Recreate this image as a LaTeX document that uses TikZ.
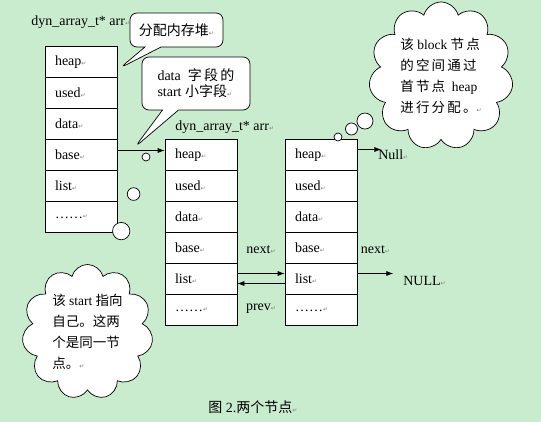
\documentclass[tikz,border=0pt]{standalone}
\usepackage{fontspec}
\setmainfont{Liberation Serif}
\newfontfamily\cjk{Noto Sans CJK SC}
\newfontfamily\cjkwide[LetterSpace=16]{Noto Sans CJK SC}
\newfontfamily\symfont{DejaVu Sans}
\usetikzlibrary{positioning,shapes.callouts,arrows.meta}
\definecolor{bggreen}{RGB}{201,236,206}
\newcommand\retmark{{\symfont\fontsize{6}{6}\selectfont\textcolor{gray}{↵}}}

\begin{document}
\begin{tikzpicture}[x=1pt,y=-1pt,node distance=31pt,on grid,line width=0.7pt,
    >={Latex[length=7pt,width=5pt]},
    every node/.style={font=\fontsize{14}{16}\selectfont},
    cell/.style={draw,fill=white,minimum width=72pt,minimum height=31pt,
      text width=52pt,inner xsep=10pt,align=left},
    lbl/.style={anchor=west,inner sep=0pt},
    speech/.style={rectangle callout,draw,fill=white,rounded corners=7pt,
      callout pointer width=16pt,align=left},
    thought/.style={cloud callout,draw,fill=white,cloud puffs=11,cloud ignores aspect,
      align=left,callout pointer segments=3,
      font=\fontsize{13.5}{21}\selectfont}]

    \fill[bggreen] (0,0) rectangle (541,422);
    \useasboundingbox (0,0) rectangle (541,422);

    % first node
    \node[cell] (l1) at (81,62) {heap\retmark};
    \node[cell] (l2) [below=of l1] {used\retmark};
    \node[cell] (l3) [below=of l2] {data\retmark};
    \node[cell] (l4) [below=of l3] {base\retmark};
    \node[cell] (l5) [below=of l4] {list\retmark};
    \node[cell] (l6) [below=of l5] {……\retmark};

    % second node
    \node[cell] (m1) [right=120pt of l4] {heap\retmark};
    \node[cell] (m2) [below=of m1] {used\retmark};
    \node[cell] (m3) [below=of m2] {data\retmark};
    \node[cell] (m4) [below=of m3] {base\retmark};
    \node[cell] (m5) [below=of m4] {list\retmark};
    \node[cell] (m6) [below=of m5] {……\retmark};

    % block node
    \node[cell] (r1) [right=120pt of m1] {heap\retmark};
    \node[cell] (r2) [below=of r1] {used\retmark};
    \node[cell] (r3) [below=of r2] {data\retmark};
    \node[cell] (r4) [below=of r3] {base\retmark};
    \node[cell] (r5) [below=of r4] {list\retmark};
    \node[cell] (r6) [below=of r5] {……\retmark};

    \node[lbl] (arrL) at (31,22) {dyn\_array\_t* arr\retmark};
    \node[lbl] (arrM) at (175,127) {dyn\_array\_t* arr\retmark};
    \node[lbl] (nullh) at (378,155) {Null\retmark};
    \node[lbl] (nullr) at (403,281) {NULL\retmark};

    \coordinate (nulltip) at ([xshift=24pt,yshift=5.5pt]r1.east);
    \coordinate (nextend) at ([xshift=36pt,yshift=5.5pt]r5.east);

    \path[->]
    ([yshift=4.5pt]l4.east) edge ([yshift=4.5pt]m1.west)
    ([yshift=5.5pt]r1.east) edge (nulltip)
    ([yshift=5.5pt]m5.east) edge node[above=16pt] {next\retmark} ([yshift=5.5pt]r5.west)
    ([yshift=-4.5pt]r5.west) edge node[below=17pt] {prev\retmark} ([yshift=-4.5pt]m5.east)
    ([yshift=5.5pt]r5.east) edge node[above=16pt] {next\retmark} (nextend);

    % callouts
    \coordinate (tip1) at (120,68);
    \coordinate (tip2) at (135,147);
    \coordinate (tip3) at (146,157);
    \coordinate (tip4) at (338,137);

    \node[speech,callout absolute pointer={(tip1)},minimum width=93pt,minimum height=34pt]
      (c1) at (176.5,30) {{\cjk 分配内存堆}\retmark};
    \node[speech,callout absolute pointer={(tip2)},minimum width=108pt,minimum height=53pt]
      (c2) at (196,83.5) {data\ \ {\cjk 字\,段\,的}\\start {\cjk 小字段}\retmark};

    \node[thought,callout absolute pointer={(tip3)},minimum width=131pt,minimum height=135pt,
      callout pointer start size=22pt and 22pt,callout pointer end size=8pt and 8pt]
      (t1) at (87.5,332) {{\cjk 该} start {\cjk 指向}\\{\cjk 自己。这两}\\{\cjk 个是同一节}\\{\cjk 点。}\retmark};
    \node[thought,callout absolute pointer={(tip4)},minimum width=142pt,minimum height=148pt,
      callout pointer start size=20pt and 20pt,callout pointer end size=8pt and 8pt]
      (t2) at (441,76) {{\cjkwide 该} block {\cjkwide 节点}\\{\cjkwide 的空间通过}\\{\cjkwide 首节点}\ \ heap\\{\cjkwide 进行分配。}\retmark};

    \node (cap) at (253,407) {{\cjk 图} 2.{\cjk 两个节点}\retmark};
  \end{tikzpicture}
\end{document}
